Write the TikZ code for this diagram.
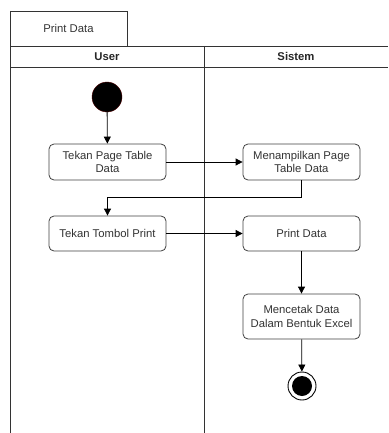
\documentclass[tikz,border=0pt]{standalone}
\usepackage{fontspec}
\setmainfont{Liberation Sans}
\usetikzlibrary{arrows.meta}
\begin{document}
\begin{tikzpicture}[x=1pt,y=-1pt,
  lane/.style={draw=black!80, line width=0.9pt},
  act/.style={draw=black!75, line width=0.8pt, rounded corners=5pt, fill=white,
    minimum width=117pt, minimum height=36pt, align=center,
    font=\fontsize{11.3}{13.3}\selectfont, text=black!80, inner sep=0pt},
  flow/.style={draw=black, line width=0.8pt, -{Triangle[length=7pt,width=7pt]}},
  hdr/.style={font=\fontsize{11.3}{13}\selectfont\bfseries, text=black!85}
]
\useasboundingbox (0,0) rectangle (388,433);
% frame
\draw[lane] (10,46) rectangle (127,11);
\node[font=\fontsize{11.3}{13}\selectfont, text=black!80] (tab) at (68.5,28.5) {Print Data};
\draw[lane] (10,46) -- (388,46);
\draw[lane] (10,67) -- (388,67);
\draw[lane] (10,11) -- (10,433);
\draw[lane] (204,46) -- (204,433);
\node[hdr] (huser) at (107,56.5) {User};
\node[hdr] (hsis) at (296,56.5) {Sistem};
% nodes
\node[circle, fill=black, draw=black!70!red, minimum size=30pt, inner sep=0pt] (start) at (107,97) {};
\node[act] (a1) at (107.5,162) {Tekan Page Table\\Data};
\node[act] (a2) at (301.5,162) {Menampilkan Page\\Table Data};
\node[act, minimum height=35pt] (a3) at (107.5,233.5) {Tekan Tombol Print};
\node[act, minimum height=35pt] (a4) at (301.5,233.5) {Print Data};
\node[act, minimum height=45pt] (a5) at (301.5,316.5) {Mencetak Data\\Dalam Bentuk Excel};
\node[circle, draw=black, line width=0.9pt, minimum size=28pt, inner sep=0pt] (end) at (302,386) {};
\node[circle, fill=black, minimum size=20pt, inner sep=0pt] (endin) at (end.center) {};
% connectors
\draw[flow] (start) -- (a1);
\draw[flow] (a1) -- (a2);
\draw[flow] (a2.south) -- ++(0,17) -| (a3.north);
\draw[flow] (a3) -- (a4);
\draw[flow] (a4) -- (a5);
\draw[flow] (a5) -- (end);
\end{tikzpicture}
\end{document}
